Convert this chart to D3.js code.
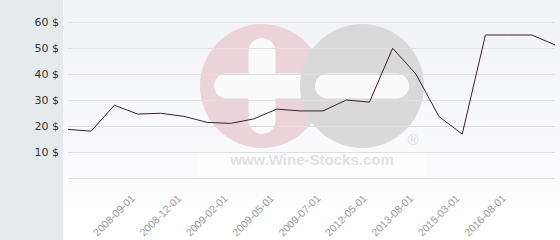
<!DOCTYPE html>
<html>
<head>
<meta charset="utf-8">
<script src="https://cdn.jsdelivr.net/npm/d3@7"></script>
<style>
  html, body { margin: 0; padding: 0; background: #fff; }
  svg { display: block; }
</style>
</head>
<body>
<svg id="chart" width="560" height="240"></svg>
<script>
// ---- data ----
const pointIndex = d3.range(22);
const prices = [18.7, 18.0, 28.0, 24.6, 24.9, 23.7, 21.4, 21.0, 22.7, 26.5, 25.8, 25.8,
                30.0, 29.2, 49.9, 40.0, 23.6, 16.9, 55.0, 55.0, 55.0, 51.2];
const tickIndex = [3, 5, 7, 9, 11, 13, 15, 17, 19];
const tickLabels = ["2008-09-01", "2008-12-01", "2009-02-01", "2009-05-01", "2009-07-01",
                    "2012-05-01", "2013-08-01", "2015-03-01", "2016-08-01"];
const yTicks = [0, 10, 20, 30, 40, 50, 60];

// ---- layout ----
const W = 560, H = 240;
const panelW = 63;
const plotL = 68, plotR = 555, plotT = 22, plotB = 178;

const svg = d3.select("#chart");
const defs = svg.append("defs");
const grad = defs.append("linearGradient").attr("id", "bg").attr("x1", 0).attr("y1", 0).attr("x2", 0).attr("y2", 1);
grad.append("stop").attr("offset", "0%").attr("stop-color", "#f1f2f6");
grad.append("stop").attr("offset", "100%").attr("stop-color", "#ffffff");

svg.append("rect").attr("x", 0).attr("y", 0).attr("width", panelW).attr("height", H).attr("fill", "#e6eaed");
svg.append("rect").attr("x", panelW).attr("y", 0).attr("width", W - panelW).attr("height", H).attr("fill", "url(#bg)");
svg.append("line").attr("x1", panelW + 0.5).attr("x2", panelW + 0.5).attr("y1", 0).attr("y2", H).attr("stroke", "#f4f6f8");

const x = d3.scalePoint().domain(pointIndex).range([plotL, plotR]);
const y = d3.scaleLinear().domain([0, 60]).range([plotB, plotT]);

// ---- watermark ----
const wm = svg.append("g");
const cy = 86, r = 62, cxP = 262, cxM = 362;
wm.append("circle").attr("cx", cxP).attr("cy", cy).attr("r", r).attr("fill", "#ecd3da");
wm.append("rect").attr("x", cxP - 48).attr("y", cy - 12.5).attr("width", 96).attr("height", 25).attr("rx", 12.5).attr("fill", "#fafafb");
wm.append("rect").attr("x", cxP - 13.5).attr("y", cy - 48).attr("width", 27).attr("height", 96).attr("rx", 13.5).attr("fill", "#fafafb");
wm.append("circle").attr("cx", cxM).attr("cy", cy).attr("r", r).attr("fill", "#d9d9da");
wm.append("rect").attr("x", cxM - 47).attr("y", cy - 12.5).attr("width", 94).attr("height", 25).attr("rx", 12.5).attr("fill", "#fafafb");
wm.append("text").attr("x", 413).attr("y", 145).attr("text-anchor", "middle")
  .attr("font-family", "Liberation Sans, Arial, sans-serif").attr("font-size", 15)
  .attr("fill", "#dcdcdc").text("®");
wm.append("rect").attr("x", 197).attr("y", 153).attr("width", 230).attr("height", 24).attr("fill", "#ffffff").attr("opacity", 0.6);
wm.append("text").attr("x", 312).attr("y", 165).attr("text-anchor", "middle")
  .attr("font-family", "Liberation Sans, Arial, sans-serif").attr("font-weight", "bold").attr("font-size", 15)
  .attr("fill", "#e1e1e3").text("www.Wine-Stocks.com");

// ---- grid & y axis ----
const gridG = svg.append("g");
gridG.selectAll("line").data(yTicks).join("line")
  .attr("x1", plotL).attr("x2", plotR)
  .attr("y1", d => Math.round(y(d)) + 0.5).attr("y2", d => Math.round(y(d)) + 0.5)
  .attr("stroke", "#e0e0e2").attr("stroke-width", 1);

svg.append("g").selectAll("text").data(yTicks.filter(d => d > 0)).join("text")
  .attr("x", 59).attr("y", d => y(d)).attr("dy", "0.35em")
  .attr("text-anchor", "end")
  .attr("font-family", "DejaVu Sans, sans-serif").attr("font-size", 11)
  .attr("fill", "#333").text(d => d + " $");

// ---- x labels ----
svg.append("g").selectAll("text").data(tickIndex).join("text")
  .attr("transform", d => `translate(${x(d) - 2},199) rotate(-45)`)
  .attr("text-anchor", "end")
  .attr("font-family", "Liberation Sans, Arial, sans-serif").attr("font-size", 10.5)
  .attr("fill", "#9a9a9a").text((d, i) => tickLabels[i]);

// ---- line ----
const line = d3.line().x((d, i) => x(pointIndex[i])).y(d => y(d));
svg.append("path").datum(prices)
  .attr("d", line).attr("fill", "none")
  .attr("stroke", "#3a1f2c").attr("stroke-width", 1);
</script>
</body>
</html>
